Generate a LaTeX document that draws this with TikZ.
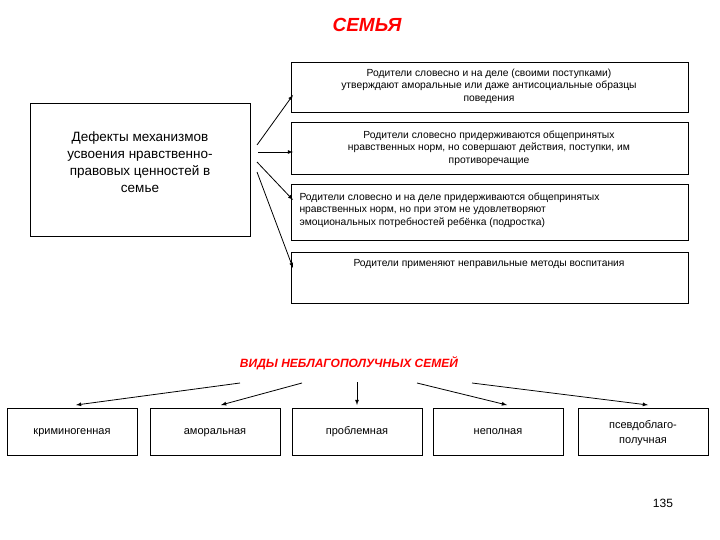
\documentclass[tikz,border=0pt]{standalone}
\usepackage{fontspec}
\setmainfont{Liberation Sans}
\begin{document}
\begin{tikzpicture}[x=1pt,y=-1pt,
 bx/.style={draw,line width=0.8pt,anchor=north west,inner sep=3pt},
 ar/.style={-latex,line width=0.8pt},
 sm/.style={font=\fontsize{10.3}{12.5}\selectfont,align=center}]
\useasboundingbox (0,0) rectangle (720,540);
\node[font=\bfseries\itshape\fontsize{19}{22}\selectfont,text=red] (t) at (367,25) {СЕМЬЯ};
\node[bx,minimum width=397pt,minimum height=50pt] (b1) at (291,62) {};
\node[sm] at (489,86) {Родители словесно и на деле (своими поступками)\\утверждают аморальные или даже антисоциальные образцы\\поведения};
\node[bx,minimum width=397pt,minimum height=52pt] (b2) at (291,122) {};
\node[sm] at (489,148) {Родители словесно придерживаются общепринятых\\нравственных норм, но совершают действия, поступки, им\\противоречащие};
\node[bx,minimum width=397pt,minimum height=56pt] (b3) at (291,184) {};
\node[sm,align=left,anchor=west] at (296,210) {Родители словесно и на деле придерживаются общепринятых\\нравственных норм, но при этом не удовлетворяют\\эмоциональных потребностей ребёнка (подростка)};
\node[bx,minimum width=397pt,minimum height=51pt] (b4) at (291,252) {};
\node[sm] at (489,264) {Родители применяют неправильные методы воспитания};
\node[bx,minimum width=220pt,minimum height=133pt] (l) at (30,103) {};
\node[font=\fontsize{13.5}{17}\selectfont,align=center] at (140,162) {Дефекты механизмов\\усвоения нравственно-\\правовых ценностей в\\семье};
\coordinate (s1) at (257,145); \coordinate (s2) at (258,152);
\coordinate (s3) at (257,162); \coordinate (s4) at (257,172);
\coordinate (e1) at (293,95); \coordinate (e2) at (293,152);
\coordinate (e3) at (293,200); \coordinate (e4) at (293,268);
\draw[ar] (s1)--(e1); \draw[ar] (s2)--(e2); \draw[ar] (s3)--(e3); \draw[ar] (s4)--(e4);
\node[font=\bfseries\itshape\fontsize{12}{14}\selectfont,text=red] (v) at (349,363) {ВИДЫ НЕБЛАГОПОЛУЧНЫХ СЕМЕЙ};
\foreach \n/\x/\t in {k1/7/криминогенная,k2/150/аморальная,k3/292/проблемная,k4/433/неполная,k5/578/{псевдоблаго-\\получная}}{
 \node[draw,line width=0.8pt,minimum width=130pt,minimum height=47pt] (\n) at (\x+65,431.5) {};
 \node[font=\fontsize{11}{15}\selectfont,align=center] at (\x+65,431.5) {\strut\t};}
\coordinate (a1) at (240,383); \coordinate (a2) at (302,383); \coordinate (a3) at (357,382);
\coordinate (a4) at (417,383); \coordinate (a5) at (472,383);
\coordinate (f1) at (76,405); \coordinate (f2) at (221,405); \coordinate (f3) at (357,405);
\coordinate (f4) at (507,405); \coordinate (f5) at (648,405);
\foreach \i in {1,...,5}{\draw[ar] (a\i)--(f\i);}
\node[font=\fontsize{12}{14}\selectfont] (p) at (663,503) {135};
\end{tikzpicture}
\end{document}
